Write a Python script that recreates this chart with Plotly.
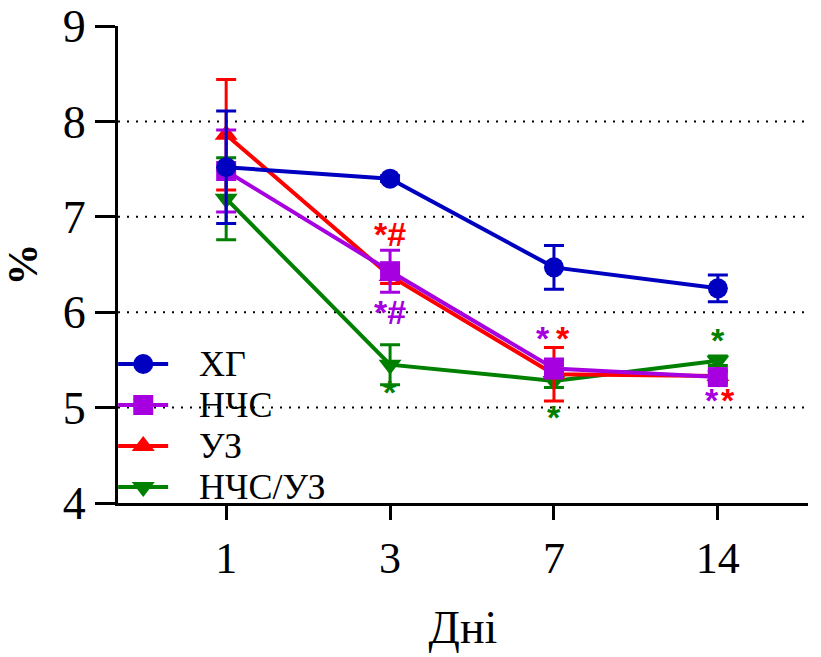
import plotly.graph_objects as go

# Days of observation and group measurements (mean ± error, %)
days = ["1", "3", "7", "14"]

hg_mean = [7.52, 7.40, 6.47, 6.25]
hg_err = [0.59, 0.03, 0.23, 0.14]

nchs_mean = [7.48, 6.43, 5.41, 5.32]
nchs_err = [0.43, 0.22, 0.10, 0.06]

uz_mean = [7.86, 6.38, 5.35, 5.33]
uz_err = [0.58, 0.08, 0.28, 0.05]

nchsuz_mean = [7.19, 5.45, 5.28, 5.49]
nchsuz_err = [0.43, 0.21, 0.07, 0.05]

y_ticks = [4, 5, 6, 7, 8, 9]
grid_levels = [5, 6, 7, 8]

BLUE = "#0000C0"
PURPLE = "#A600E0"
RED = "#FF0000"
GREEN = "#008000"

SERIF = "Liberation Serif, Times New Roman, serif"
SANS = "Liberation Sans, Arial, sans-serif"

xpos = list(range(len(days)))

# series in drawing order (last drawn on top); legend is listed top-down
series = [
    ("НЧС/УЗ", nchsuz_mean, nchsuz_err, GREEN, "triangle-down"),
    ("УЗ", uz_mean, uz_err, RED, "triangle-up"),
    ("НЧС", nchs_mean, nchs_err, PURPLE, "square"),
    ("ХГ", hg_mean, hg_err, BLUE, "circle"),
]

fig = go.Figure()

for name, mean, err, color, symbol in series:
    fig.add_trace(go.Scatter(
        x=xpos, y=mean, name=name, mode="lines+markers",
        line=dict(color=color, width=4),
        marker=dict(color=color, symbol=symbol, size=20, line=dict(width=0)),
        error_y=dict(type="data", array=err, visible=True,
                     color=color, thickness=3, width=10),
        showlegend=False, cliponaxis=False,
    ))

# hand-drawn legend inside the plot area
legend_rows = [5.457, 5.027, 4.597, 4.167]
legend_x0, legend_xm, legend_x1, legend_tx = -0.659, -0.506, -0.354, -0.177
annotations = []
for (name, mean, err, color, symbol), ly in zip(series[::-1], legend_rows):
    fig.add_trace(go.Scatter(
        x=[legend_x0, legend_x1], y=[ly, ly], mode="lines",
        line=dict(color=color, width=4), showlegend=False,
        hoverinfo="skip", cliponaxis=False,
    ))
    fig.add_trace(go.Scatter(
        x=[legend_xm], y=[ly], mode="markers",
        marker=dict(color=color, symbol=symbol, size=20, line=dict(width=0)),
        showlegend=False, hoverinfo="skip", cliponaxis=False,
    ))
    annotations.append(dict(
        x=legend_tx, y=ly, text=name, showarrow=False,
        xanchor="left", yanchor="middle",
        font=dict(family=SERIF, size=36, color="black"),
    ))

# significance marks
marks = [
    (1, 6.82, "*#", RED, 0),
    (1, 6.00, "*#", PURPLE, 0),
    (1, 5.16, "*", GREEN, 0),
    (2, 5.73, "*", PURPLE, -11),
    (2, 5.73, "*", RED, 9),
    (2, 4.90, "*", GREEN, 0),
    (3, 5.71, "*", GREEN, 0),
    (3, 5.08, "*", PURPLE, -6),
    (3, 5.08, "*", RED, 10),
]
for mx, my, txt, color, shift in marks:
    annotations.append(dict(
        x=mx, y=my, text=f"<b>{txt}</b>", showarrow=False,
        xanchor="center", yanchor="middle", xshift=shift,
        font=dict(family=SANS, size=34, color=color),
    ))

shapes = [
    dict(type="line", xref="paper", x0=0, x1=1, yref="y", y0=g, y1=g,
         line=dict(color="black", width=2, dash="2px,7px"), layer="below")
    for g in grid_levels
]

fig.update_layout(
    width=821, height=657,
    margin=dict(l=118, r=13, t=26, b=154),
    paper_bgcolor="white", plot_bgcolor="white",
    shapes=shapes, annotations=annotations,
    showlegend=False,
)

fig.update_xaxes(
    range=[-0.66, 3.55], tickvals=xpos, ticktext=days,
    showgrid=False, zeroline=False, automargin=False,
    showline=True, linecolor="black", linewidth=3,
    ticks="outside", ticklen=14, tickwidth=3, tickcolor="black",
    tickfont=dict(family=SERIF, size=44, color="black"),
    title=dict(text="Дні", font=dict(family=SERIF, size=46, color="black"),
               standoff=30),
)
fig.update_yaxes(
    range=[4, 9], tickvals=y_ticks,
    showgrid=False, zeroline=False, automargin=False,
    showline=True, linecolor="black", linewidth=3,
    ticks="outside", ticklen=20, tickwidth=3, tickcolor="black",
    tickfont=dict(family=SERIF, size=46, color="black"),
    title=dict(text="<b>%</b>", font=dict(family=SERIF, size=42, color="black"),
               standoff=14),
)

fig.write_html("out.html")
